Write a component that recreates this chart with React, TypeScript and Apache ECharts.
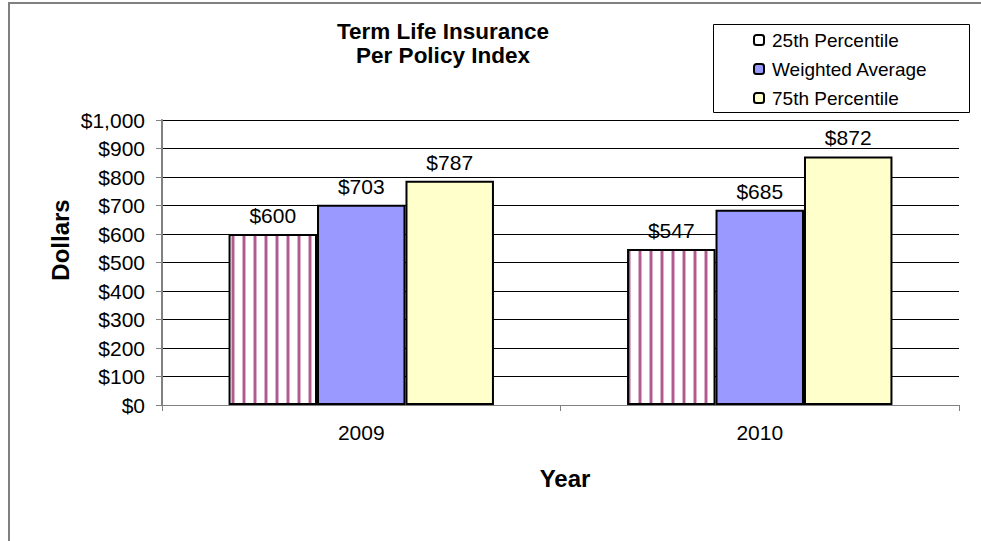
import React, { useEffect, useRef } from "react";
import * as echarts from "echarts";

const categories = ["2009", "2010"];
const seriesNames = ["25th Percentile", "Weighted Average", "75th Percentile"];
const p25 = [600, 547];
const wavg = [703, 685];
const p75 = [787, 872];
const yTicks = [0, 1000, 100];

function makeStripe(): HTMLCanvasElement {
  const c = document.createElement("canvas");
  c.width = 11;
  c.height = 10;
  const ctx = c.getContext("2d")!;
  ctx.fillStyle = "#ffffff";
  ctx.fillRect(0, 0, 11, 10);
  ctx.fillStyle = "#dcb0cb";
  ctx.fillRect(0, 0, 4, 10);
  ctx.fillStyle = "#b05a8e";
  ctx.fillRect(1, 0, 2, 10);
  return c;
}

export default function App() {
  const ref = useRef<HTMLDivElement>(null);
  useEffect(() => {
    if (!ref.current) return;
    const chart = echarts.init(ref.current, null, { renderer: "svg" });
    const font = "Arial, 'Liberation Sans', sans-serif";
    const stripe = makeStripe();
    const labelStyle = {
      show: true,
      position: "top" as const,
      distance: 8,
      color: "#000",
      fontSize: 21,
      fontFamily: font,
      formatter: (p: any) => "$" + p.value,
    };
    const border = { borderColor: "#000", borderWidth: 2 };
    chart.setOption({
      animation: false,
      backgroundColor: "#fff",
      title: {
        text: "Term Life Insurance\nPer Policy Index",
        left: 443,
        top: 19,
        textAlign: "center",
        padding: 0,
        textStyle: { fontSize: 22.5, fontWeight: "bold", fontFamily: font, color: "#000", lineHeight: 24 },
      },
      legend: {
        orient: "vertical",
        left: 753,
        top: 29,
        padding: 0,
        itemWidth: 10,
        itemHeight: 10,
        itemGap: 7,
        itemStyle: { borderColor: "#000", borderWidth: 2 },
        textStyle: { fontSize: 19, fontFamily: font, color: "#000", lineHeight: 22, padding: [0, 0, 0, 3] },
        data: [
          { name: seriesNames[0], itemStyle: { color: "#fff", borderColor: "#000", borderWidth: 2 } },
          { name: seriesNames[1] },
          { name: seriesNames[2] },
        ],
      },
      grid: { left: 162, right: 22, top: 120, bottom: 136 },
      xAxis: {
        type: "category",
        data: categories,
        axisLine: { lineStyle: { color: "#808080", width: 1 } },
        axisTick: { show: true, length: 6, lineStyle: { color: "#808080" } },
        axisLabel: { fontSize: 21, fontFamily: font, color: "#000", margin: 17 },
      },
      yAxis: {
        type: "value",
        min: yTicks[0],
        max: yTicks[1],
        interval: yTicks[2],
        axisLine: { show: true, lineStyle: { color: "#808080", width: 2 } },
        axisTick: { show: true, length: 6, lineStyle: { color: "#808080" } },
        axisLabel: {
          fontSize: 21,
          fontFamily: font,
          color: "#000",
          margin: 17,
          formatter: (v: number) => "$" + v.toLocaleString("en-US"),
        },
        splitLine: { lineStyle: { color: "#000", width: 1 } },
      },
      graphic: [
        {
          type: "rect",
          shape: { x: 9, y: 3, width: 1000, height: 600 },
          style: { fill: "none", stroke: "#808080", lineWidth: 2 },
          silent: true,
          z: -1,
        },
        {
          type: "rect",
          shape: { x: 713.5, y: 24.5, width: 256, height: 88 },
          style: { fill: "#fff", stroke: "#000", lineWidth: 1 },
          z: 0,
        },
        {
          type: "text",
          x: 60,
          y: 240,
          rotation: Math.PI / 2,
          style: {
            text: "Dollars",
            fontSize: 24,
            fontWeight: "bold",
            fontFamily: font,
            fill: "#000",
            align: "center",
            verticalAlign: "middle",
          },
        },
        {
          type: "text",
          x: 565,
          y: 478,
          style: {
            text: "Year",
            fontSize: 24,
            fontWeight: "bold",
            fontFamily: font,
            fill: "#000",
            align: "center",
            verticalAlign: "middle",
          },
        },
      ],
      series: [
        {
          name: seriesNames[0],
          type: "bar",
          data: p25,
          barWidth: "22.2%",
          barGap: "0%",
          itemStyle: { color: { image: stripe, repeat: "repeat" } as any, ...border },
          label: labelStyle,
        },
        {
          name: seriesNames[1],
          type: "bar",
          data: wavg,
          barWidth: "22.2%",
          barGap: "0%",
          itemStyle: { color: "#9999ff", ...border },
          label: labelStyle,
        },
        {
          name: seriesNames[2],
          type: "bar",
          data: p75,
          barWidth: "22.2%",
          barGap: "0%",
          itemStyle: { color: "#ffffcc", ...border },
          label: labelStyle,
        },
      ],
    });
    return () => chart.dispose();
  }, []);
  return (
    <div
      ref={ref}
      style={{ position: "absolute", left: 0, top: 0, width: 981, height: 541 }}
    />
  );
}
